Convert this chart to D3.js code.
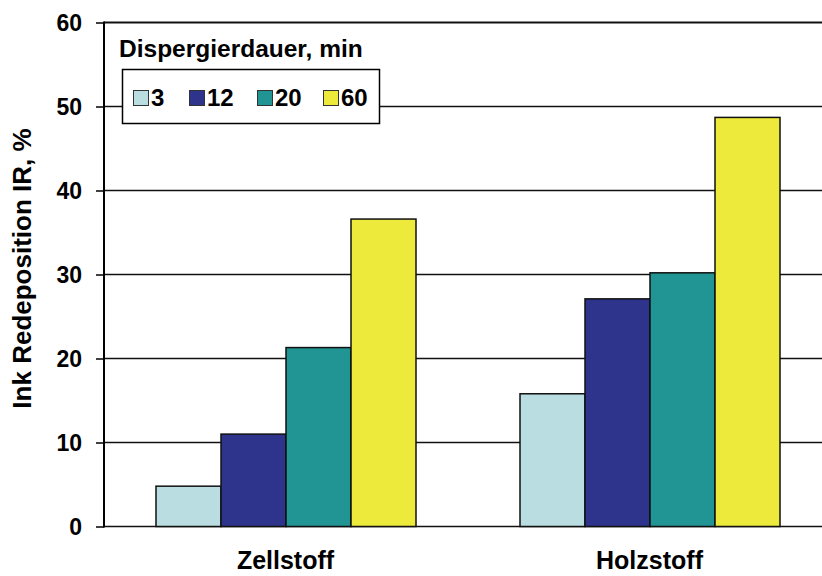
<!DOCTYPE html>
<html>
<head>
<meta charset="utf-8">
<script src="https://cdn.jsdelivr.net/npm/d3@7"></script>
<style>
  body { margin: 0; background: #fff; }
  svg text { font-family: "Liberation Sans", Arial, sans-serif; font-weight: bold; fill: #000; }
</style>
</head>
<body>
<svg id="chart" width="822" height="576"></svg>
<script>
const categories = ["Zellstoff", "Holzstoff"];
const series = ["3", "12", "20", "60"];
const colors = ["#badde1", "#2e348c", "#219594", "#eeea3c"];
const values = {
    "3":  [4.8, 15.8],
    "12": [11.0, 27.1],
    "20": [21.3, 30.2],
    "60": [36.6, 48.7]
};
const yTicks = [0, 10, 20, 30, 40, 50, 60];

const plot_l = 104, plot_r = 832, plot_t = 22.5, plot_b = 526.5;

var svg = d3.select("#chart");

var y = d3.scaleLinear().domain([0, 60]).range([plot_b, plot_t]);
var x0 = d3.scaleBand().domain(categories).range([plot_l, plot_r]);
var x1 = d3.scaleBand().domain(series).range([0, x0.bandwidth()])
    .paddingInner(0).paddingOuter(0.8);
var color = d3.scaleOrdinal().domain(series).range(colors);

//gridlines + ticks
var yAxis = svg.append("g")
    .attr("transform", "translate(" + plot_l + ",0)")
    .call(d3.axisLeft(y).tickValues(yTicks).tickSize(8).tickPadding(14));
yAxis.select(".domain").remove();
yAxis.selectAll(".tick line").attr("stroke", "#000").attr("stroke-width", 1.5);
yAxis.selectAll(".tick text")
    .style("font-size", "23px")
    .attr("dy", "0.36em");

svg.append("g").selectAll("line")
    .data(yTicks)
    .enter()
    .append("line")
    .attr("x1", plot_l)
    .attr("x2", plot_r)
    .attr("y1", (d) => y(d))
    .attr("y2", (d) => y(d))
    .attr("stroke", "#111")
    .attr("stroke-width", (d) => d == 60 ? 2.2 : 1.6);

//bars
var groups = svg.append("g").selectAll("g")
    .data(categories)
    .enter()
    .append("g")
    .attr("transform", (d) => "translate(" + x0(d) + ",0)");

groups.selectAll("rect")
    .data((d, i) => series.map((s) => ({ key: s, value: values[s][i] })))
    .enter()
    .append("rect")
    .attr("x", (d) => x1(d.key))
    .attr("y", (d) => y(d.value))
    .attr("width", x1.bandwidth())
    .attr("height", (d) => y(0) - y(d.value))
    .attr("fill", (d) => color(d.key))
    .attr("stroke", "#111")
    .attr("stroke-width", 1.5);

//left axis line
svg.append("line")
    .attr("x1", plot_l).attr("x2", plot_l)
    .attr("y1", plot_t - 1).attr("y2", plot_b + 1)
    .attr("stroke", "#000").attr("stroke-width", 2);

//category labels
svg.append("g").selectAll("text")
    .data(categories)
    .enter()
    .append("text")
    .attr("x", (d) => x0(d) + x0.bandwidth() / 2 - 0.5)
    .attr("y", 569)
    .attr("text-anchor", "middle")
    .style("font-size", "25px")
    .text((d) => d);

//y label
svg.append("text")
    .attr("transform", "translate(31," + ((plot_t + plot_b) / 2 - 6) + ") rotate(-90)")
    .attr("text-anchor", "middle")
    .style("font-size", "26px")
    .text("Ink Redeposition IR, %");

//legend
svg.append("text")
    .attr("x", 119)
    .attr("y", 57)
    .style("font-size", "24.5px")
    .text("Dispergierdauer, min");

var legend = svg.append("g");
legend.append("rect")
    .attr("x", 122.5).attr("y", 69.5)
    .attr("width", 257).attr("height", 54)
    .attr("fill", "#fff")
    .attr("stroke", "#000")
    .attr("stroke-width", 1.5);

const legendX = [133, 189, 257, 323];
var items = legend.selectAll("g.item")
    .data(series)
    .enter()
    .append("g")
    .attr("class", "item")
    .attr("transform", (d, i) => "translate(" + legendX[i] + ",90)");
items.append("rect")
    .attr("x", 0.5).attr("y", 0.5)
    .attr("width", 15).attr("height", 15)
    .attr("fill", (d) => color(d))
    .attr("stroke", "#333")
    .attr("stroke-width", 1);
items.append("text")
    .attr("x", 18)
    .attr("y", 16)
    .style("font-size", "24px")
    .text((d) => d);
</script>
</body>
</html>
